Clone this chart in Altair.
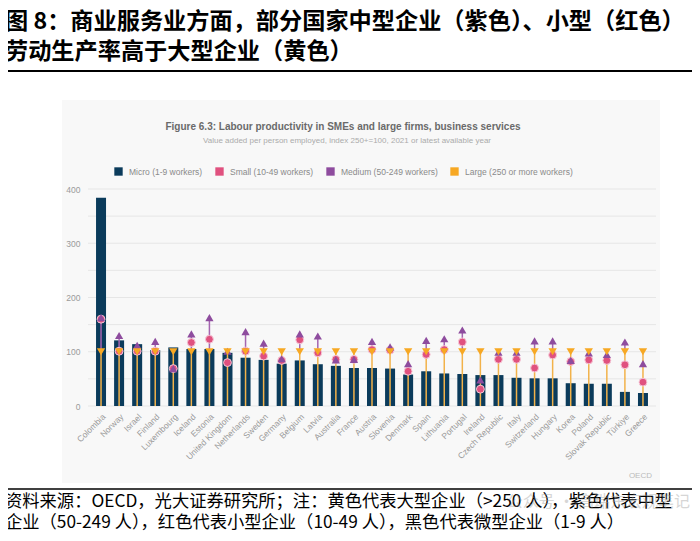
import altair as alt
import pandas as pd

countries = ["Colombia", "Norway", "Israel", "Finland", "Luxembourg", "Iceland", "Estonia",
             "United Kingdom", "Netherlands", "Sweden", "Germany", "Belgium", "Latvia",
             "Australia", "France", "Austria", "Slovenia", "Denmark", "Spain", "Lithuania",
             "Portugal", "Ireland", "Czech Republic", "Italy", "Switzerland", "Hungary",
             "Korea", "Poland", "Slovak Republic", "Türkiye", "Greece"]
micro = [384, 121, 114, 103, 108, 105, 105, 98, 89, 85, 78, 84, 77, 74, 70, 70, 69, 58,
         64, 60, 59, 57, 57, 52, 51, 51, 42, 41, 41, 26, 24]
small = [160, 101, 101, 101, 69, 117, 123, 80, 101, 92, 84, 122, 98, 86, 86, 104, 103, 64,
         95, 104, 118, 31, 86, 86, 70, 94, 82, 85, 84, 76, 44]
medium = [163, 130, 112, 119, 69, 133, 163, 101, 137, 116, 87, 133, 129, 85, 86, 119, 109, 78,
          121, 124, 140, 48, 99, 99, 120, 120, 84, 98, 95, 118, 78]
large = [100, 100, 100, 100, 100, 100, 100, 100, 100, 100, 100, 100, 100, 100, 100, 100,
         100, 100, 100, 100, 100, 100, 100, 100, 100, 100, 100, 100, 100, 100, 100]

series_names = ["Micro (1-9 workers)", "Small (10-49 workers)",
                "Medium (50-249 workers)", "Large (250 or more workers)"]
series_colors = ["#0b3b5b", "#e0517f", "#8e4c9e", "#f7a823"]
y_ticks = [0, 50, 100, 150, 200, 250, 300, 350, 400]

title_lines = ["图 8：商业服务业方面，部分国家中型企业（紫色）、小型（红色）",
               "劳动生产率高于大型企业（黄色）"]
chart_title = "Figure 6.3: Labour productivity in SMEs and large firms, business services"
chart_subtitle = "Value added per person employed, index 250+=100, 2021 or latest available year"
source_lines = ["资料来源：OECD，光大证券研究所；注：黄色代表大型企业（>250 人），紫色代表中型",
                "企业（50-249 人），红色代表小型企业（10-49 人），黑色代表微型企业（1-9 人）"]
watermark = "公众号 · 高瑞东宏观笔记"

rows = []
for i, c in enumerate(countries):
    for name, vals in zip(series_names, [micro, small, medium, large]):
        rows.append({"country": c, "series": name, "value": vals[i]})
df = pd.DataFrame(rows)

rule_low = pd.DataFrame({"country": countries, "lo": [0] * len(countries), "hi": large})
hi2 = [max(s, m) for s, m in zip(small, medium)]
rule_high = pd.DataFrame({"country": countries, "lo": large, "hi": hi2})
rule_high = rule_high[rule_high["hi"] > rule_high["lo"]]
grid_df = pd.DataFrame({"value": y_ticks})

FONT = "Liberation Sans"
CJK = "Noto Sans CJK SC"

x_enc = alt.X("country:N", sort=countries,
              scale=alt.Scale(paddingInner=0, paddingOuter=0),
              axis=alt.Axis(title=None, labelAngle=-45, labelFontSize=8.5, labelColor="#9a9a9a",
                            labelFont=FONT, ticks=False, domain=False, labelPadding=6, grid=False,
                            zindex=2))
y_enc = alt.Y("value:Q", scale=alt.Scale(domain=[0, 400], nice=False),
              axis=alt.Axis(title=None, values=y_ticks, labelFontSize=8.5, labelColor="#9a9a9a",
                            labelFont=FONT, ticks=False, domain=False, labelPadding=12,
                            grid=False, zindex=2))
color_enc = alt.Color("series:N",
                      scale=alt.Scale(domain=series_names, range=series_colors),
                      legend=alt.Legend(title=None, orient="none", direction="horizontal",
                                        legendX=22, legendY=-22, symbolType="square",
                                        symbolSize=70, symbolStrokeWidth=0,
                                        labelFontSize=8.5, labelColor="#8a8a8a", labelFont=FONT,
                                        columnPadding=12, labelOffset=6, zindex=2))

panel = alt.Chart(pd.DataFrame({"k": [0]})).mark_rect(color="#f8f8f8").encode(
    x=alt.value(-30), x2=alt.value(568), y=alt.value(-89), y2=alt.value(294))

grid = alt.Chart(grid_df).mark_rule(color="#e6e6e6", strokeWidth=1).encode(
    y=alt.Y("value:Q"), x=alt.value(-4), x2=alt.value(564))

bars = alt.Chart(df).transform_filter(alt.datum.series == series_names[0]).mark_bar(size=10).encode(
    x=x_enc, y=y_enc, color=color_enc)

r1 = alt.Chart(rule_low).mark_rule(color="#f2b24a", strokeWidth=1.5).encode(
    x=alt.X("country:N", sort=countries), y="lo:Q", y2="hi:Q")
r2 = alt.Chart(rule_high).mark_rule(color="#a565b0", strokeWidth=1.5).encode(
    x=alt.X("country:N", sort=countries), y="lo:Q", y2="hi:Q")

pt_small = alt.Chart(df).transform_filter(alt.datum.series == series_names[1]).mark_point(
    shape="circle", filled=True, size=62, opacity=1, stroke="#f6c9d8", strokeWidth=1).encode(
    x=alt.X("country:N", sort=countries), y="value:Q", color=color_enc)
pt_medium = alt.Chart(df).transform_filter(alt.datum.series == series_names[2]).mark_point(
    shape="triangle-up", filled=True, size=68, opacity=1).encode(
    x=alt.X("country:N", sort=countries), y="value:Q", color=color_enc)
pt_large = alt.Chart(df).transform_filter(alt.datum.series == series_names[3]).mark_point(
    shape="triangle-down", filled=True, size=70, opacity=1).encode(
    x=alt.X("country:N", sort=countries), y="value:Q", color=color_enc)

def text_layer(txt, x, y, size, color="#000000", weight="normal", align="left", font=CJK, opacity=1.0):
    return alt.Chart(pd.DataFrame({"t": [txt]})).mark_text(
        align=align, baseline="middle", fontSize=size, fontWeight=weight, color=color,
        font=font, opacity=opacity).encode(text="t:N", x=alt.value(x), y=alt.value(y))

def hline(x1, x2, y, w):
    return alt.Chart(pd.DataFrame({"k": [0]})).mark_rule(color="#000000", strokeWidth=w).encode(
        x=alt.value(x1), x2=alt.value(x2), y=alt.value(y))

layers = [
    panel, grid, bars, r1, r2, pt_small, pt_medium, pt_large,
    text_layer(title_lines[0], -87, -167, 23.2, weight="bold"),
    text_layer(title_lines[1], -87, -137, 23.2, weight="bold"),
    hline(-87, 603, -118, 2),
    text_layer(chart_title, 251, -62, 10, color="#6a6a6a", weight="bold", align="center", font=FONT),
    text_layer(chart_subtitle, 255, -48, 8, color="#ababab", align="center", font=FONT),
    text_layer("OECD", 560, 287, 8, color="#bbbbbb", align="right", font=FONT),
    hline(-87, 603, 300, 1.5),
    text_layer(source_lines[0], -87, 313, 17.3),
    text_layer(source_lines[1], -87, 334, 17.3),
    text_layer(watermark, 598, 313, 16, color="#9a9a9a", align="right", opacity=0.4),
]

chart = alt.layer(*layers).properties(
    width=560, height=217,
    autosize=alt.AutoSizeParams(type="none"),
    padding={"left": 84, "top": 181, "right": 40, "bottom": 127},
    background="#ffffff",
).configure_view(stroke=None)

chart.save("out.html", embed_options={"renderer": "svg", "actions": False})
